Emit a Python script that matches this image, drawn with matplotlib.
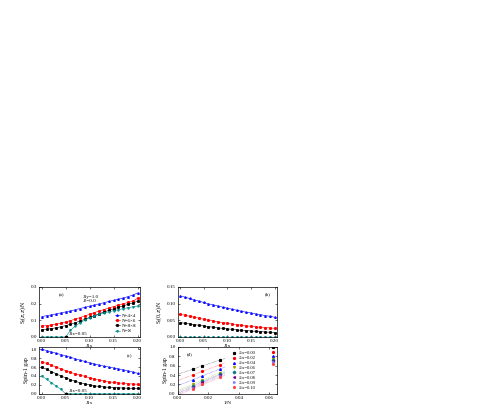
import matplotlib
matplotlib.use('Agg')
import matplotlib.pyplot as plt
import numpy as np

plt.rcParams['font.family'] = ['Liberation Serif', 'DejaVu Serif']
plt.rcParams['mathtext.fontset'] = 'stix'

# ось J1x для панелей (a)-(c)
j1x = [0.00, 0.01, 0.02, 0.03, 0.04, 0.05, 0.06, 0.07, 0.08, 0.09, 0.10,
       0.11, 0.12, 0.13, 0.14, 0.15, 0.16, 0.17, 0.18, 0.19, 0.20]

# (a) S(pi,pi)/N
sa_4 = [0.122, 0.127, 0.132, 0.138, 0.144, 0.150, 0.156, 0.163, 0.170, 0.177, 0.184,
        0.191, 0.198, 0.205, 0.212, 0.219, 0.226, 0.233, 0.241, 0.250, 0.263]
sa_6 = [0.065, 0.068, 0.072, 0.077, 0.083, 0.090, 0.098, 0.107, 0.116, 0.126, 0.136,
        0.146, 0.155, 0.164, 0.173, 0.182, 0.190, 0.198, 0.206, 0.214, 0.231]
sa_8 = [0.043, 0.046, 0.050, 0.055, 0.061, 0.068, 0.076, 0.085, 0.095, 0.106, 0.117,
        0.128, 0.139, 0.149, 0.159, 0.168, 0.177, 0.186, 0.195, 0.204, 0.213]
sa_inf = [0.0, 0.0, 0.0, 0.0, 0.0, 0.0, 0.040, 0.065, 0.085, 0.100, 0.115,
          0.125, 0.135, 0.143, 0.150, 0.157, 0.163, 0.169, 0.175, 0.180, 0.185]

# (b) S(0,pi)/N
sb_4 = [0.123, 0.119, 0.115, 0.111, 0.107, 0.103, 0.099, 0.096, 0.093, 0.089, 0.086,
        0.083, 0.080, 0.077, 0.074, 0.072, 0.069, 0.067, 0.064, 0.062, 0.059]
sb_6 = [0.068, 0.065, 0.062, 0.059, 0.056, 0.053, 0.050, 0.048, 0.045, 0.043, 0.041,
        0.039, 0.037, 0.035, 0.033, 0.032, 0.030, 0.029, 0.028, 0.027, 0.026]
sb_8 = [0.043, 0.041, 0.039, 0.037, 0.035, 0.033, 0.031, 0.029, 0.027, 0.026, 0.024,
        0.023, 0.021, 0.020, 0.019, 0.018, 0.017, 0.016, 0.015, 0.014, 0.013]
sb_inf = [0.0] * 21

# (c) спиновая щель
gc_4 = [1.00, 0.97, 0.94, 0.91, 0.88, 0.85, 0.82, 0.785, 0.755, 0.725, 0.695,
        0.67, 0.645, 0.62, 0.60, 0.58, 0.56, 0.54, 0.515, 0.49, 0.46]
gc_6 = [0.72, 0.68, 0.64, 0.60, 0.56, 0.52, 0.48, 0.45, 0.42, 0.39, 0.36,
        0.335, 0.31, 0.29, 0.27, 0.255, 0.245, 0.235, 0.225, 0.22, 0.215]
gc_8 = [0.60, 0.55, 0.50, 0.45, 0.40, 0.36, 0.32, 0.28, 0.25, 0.22, 0.20,
        0.18, 0.165, 0.155, 0.145, 0.14, 0.135, 0.13, 0.125, 0.12, 0.12]
gc_inf = [0.40, 0.325, 0.25, 0.175, 0.10, 0.0, 0.0, 0.0, 0.0, 0.0, 0.0,
          0.0, 0.0, 0.0, 0.0, 0.0, 0.0, 0.0, 0.0, 0.0, 0.0]

# (d) щель против 1/N
inv_n = [0.01, 0.0156, 0.0278, 0.0625]
d_labels = ['J1x=0.00', 'J1x=0.02', 'J1x=0.04', 'J1x=0.06',
            'J1x=0.07', 'J1x=0.08', 'J1x=0.09', 'J1x=0.10']
d_gaps = [[0.52, 0.60, 0.72, 1.00],
          [0.40, 0.48, 0.62, 0.90],
          [0.30, 0.38, 0.53, 0.80],
          [0.20, 0.30, 0.45, 0.75],
          [0.17, 0.27, 0.42, 0.72],
          [0.14, 0.25, 0.40, 0.70],
          [0.12, 0.22, 0.37, 0.67],
          [0.10, 0.20, 0.35, 0.64]]
d_colors = ['black', 'red', 'blue', '#a0a000', '#008080', '#800080', '#8080ff', '#ff4040']
d_markers = ['s', 'o', '^', 'v', 'D', '<', '>', 'h']

n_labels = ['N=4×4', 'N=6×6', 'N=8×8', 'N=∞']
n_colors = ['blue', 'red', 'black', '#008b8b']
n_markers = ['^', 's', 's', 'v']

fs = 3.6
fig = plt.figure(figsize=(4.98, 4.15), dpi=100)
ax_a = fig.add_axes([0.079, 0.188, 0.202, 0.121])
ax_b = fig.add_axes([0.357, 0.188, 0.199, 0.121])
ax_c = fig.add_axes([0.079, 0.051, 0.202, 0.113])
ax_d = fig.add_axes([0.357, 0.051, 0.199, 0.113])


def style(ax):
    ax.tick_params(direction='in', labelsize=fs, length=1.5, width=0.4, pad=1.5,
                   top=True, right=True)
    for s in ax.spines.values():
        s.set_linewidth(0.5)


def plot_n(ax, series):
    for y, lab, c, m in zip(series, n_labels, n_colors, n_markers):
        ax.plot(j1x, y, color=c, marker=m, ms=1.1, lw=0.4, label=lab)


plot_n(ax_a, [sa_4, sa_6, sa_8, sa_inf])
ax_a.plot([0.05], [0.0], 's', color='black', ms=1.5)
ax_a.set_xlim(-0.005, 0.205)
ax_a.set_ylim(0, 0.3)
ax_a.set_xticks([0.0, 0.05, 0.10, 0.15, 0.20])
ax_a.set_xticklabels(['0.00', '0.05', '0.10', '0.15', '0.20'])
ax_a.set_yticks([0.0, 0.1, 0.2, 0.3])
ax_a.set_ylabel(r'S$_{f}$($\pi$,$\pi$)/N', fontsize=4.2, labelpad=1)
ax_a.set_xlabel('J1x', fontsize=3.8, labelpad=0.5)
ax_a.text(0.035, 0.245, '(a)', fontsize=fs)
ax_a.text(0.085, 0.21, 'J1y=1.0\nJ2=0.0', fontsize=fs, linespacing=1.1)
ax_a.text(0.056, 0.012, 'J1x=0.05', fontsize=fs)
ax_a.legend(loc='lower right', fontsize=fs, frameon=False, handlelength=1.0,
            labelspacing=0.15, borderpad=0.2, handletextpad=0.4)
style(ax_a)

plot_n(ax_b, [sb_4, sb_6, sb_8, sb_inf])
ax_b.set_xlim(-0.005, 0.205)
ax_b.set_ylim(0, 0.15)
ax_b.set_xticks([0.0, 0.05, 0.10, 0.15, 0.20])
ax_b.set_xticklabels(['0.00', '0.05', '0.10', '0.15', '0.20'])
ax_b.set_yticks([0.0, 0.05, 0.10, 0.15])
ax_b.set_yticklabels(['0.00', '0.05', '0.10', '0.15'])
ax_b.set_ylabel(r'S$_{f}$(0,$\pi$)/N', fontsize=4.2, labelpad=1)
ax_b.set_xlabel('J1x', fontsize=3.8, labelpad=0.5)
ax_b.text(0.18, 0.125, '(b)', fontsize=fs)
style(ax_b)

plot_n(ax_c, [gc_4, gc_6, gc_8, gc_inf])
ax_c.plot([0.05], [0.0], 's', color='black', ms=1.5)
ax_c.set_xlim(-0.005, 0.205)
ax_c.set_ylim(0, 1.05)
ax_c.set_xticks([0.0, 0.05, 0.10, 0.15, 0.20])
ax_c.set_xticklabels(['0.00', '0.05', '0.10', '0.15', '0.20'])
ax_c.set_yticks([0.0, 0.2, 0.4, 0.6, 0.8, 1.0])
ax_c.set_ylabel('Spin-1 gap', fontsize=4.2, labelpad=1)
ax_c.set_xlabel('J1x', fontsize=3.8, labelpad=0.5)
ax_c.text(0.178, 0.82, '(c)', fontsize=fs)
ax_c.text(0.056, 0.04, 'J1x=0.05', fontsize=fs)
style(ax_c)

xfit = np.array([0.0, 0.031])
for g, lab, c, m in zip(d_gaps, d_labels, d_colors, d_markers):
    ax_d.plot(inv_n, g, linestyle='none', marker=m, color=c, ms=1.3, label=lab)
    k, b = np.polyfit(inv_n[:3], g[:3], 1)
    ax_d.plot(xfit, k * xfit + b, color=c, lw=0.35, ls=':')
ax_d.set_xlim(0, 0.065)
ax_d.set_ylim(0, 1.0)
ax_d.set_xticks([0.0, 0.02, 0.04, 0.06])
ax_d.set_xticklabels(['0.00', '0.02', '0.04', '0.06'])
ax_d.set_yticks([0.0, 0.2, 0.4, 0.6, 0.8, 1.0])
ax_d.set_ylabel('Spin-1 gap', fontsize=4.2, labelpad=1)
ax_d.set_xlabel('1/N', fontsize=3.8, labelpad=0.5)
ax_d.text(0.006, 0.82, '(d)', fontsize=fs)
ax_d.legend(loc='center left', bbox_to_anchor=(0.52, 0.5), fontsize=fs - 0.3,
            frameon=False, handlelength=1.0, labelspacing=0.15, borderpad=0.1,
            handletextpad=0.5)
style(ax_d)

fig.savefig('out.png', dpi=100)
